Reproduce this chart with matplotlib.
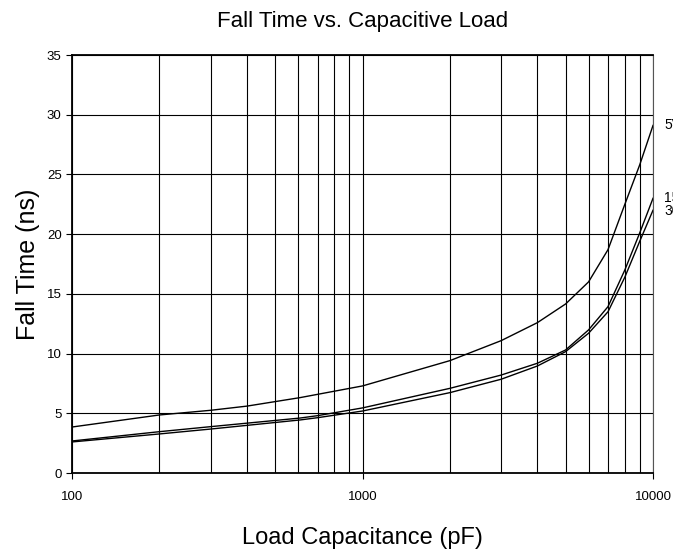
import matplotlib
matplotlib.use("Agg")
import matplotlib.pyplot as plt
from matplotlib.ticker import FixedLocator, NullFormatter, FixedFormatter, LogLocator

plt.rcParams['font.family'] = ['Liberation Sans', 'DejaVu Sans']

cap_5v = [100, 200, 300, 400, 609, 1000, 2000, 3000, 4000, 5000, 6000, 7000, 8000, 9000, 10000]
fall_5v = [3.85, 4.86, 5.25, 5.6, 6.31, 7.29, 9.41, 11.08, 12.59, 14.15, 16.0, 18.7, 22.5, 25.8, 29.1]

cap_lo = [100, 200, 300, 609, 700, 1000, 2000, 3000, 4000, 5000, 6000, 7000, 8000, 9000, 10000]
fall_15v = [2.68, 3.46, 3.88, 4.6, 4.8, 5.45, 7.09, 8.2, 9.19, 10.3, 11.98, 13.93, 17.0, 20.1, 23.0]
fall_30v = [2.6, 3.27, 3.68, 4.44, 4.63, 5.19, 6.73, 7.85, 8.96, 10.16, 11.7, 13.5, 16.4, 19.4, 22.0]

series_labels = ["5V", "15V", "30V"]
x_ticks = [100, 1000, 10000]
x_tick_labels = ["100", "1000", "10000"]
y_ticks = [0, 5, 10, 15, 20, 25, 30, 35]

fig = plt.figure(figsize=(6.73, 5.51), dpi=100)
ax = fig.add_axes([72/673, 1 - 473/551, (653-72)/673, (473-55)/551])

ax.plot(cap_5v, fall_5v, color='black', lw=1.0)
ax.plot(cap_lo, fall_15v, color='black', lw=1.0)
ax.plot(cap_lo, fall_30v, color='black', lw=1.0)

ax.set_xscale('log')
ax.set_xlim(100, 10000)
ax.set_ylim(0, 35)
ax.xaxis.set_major_locator(FixedLocator(x_ticks))
ax.xaxis.set_major_formatter(FixedFormatter(x_tick_labels))
ax.xaxis.set_minor_locator(LogLocator(base=10, subs=range(2, 10)))
ax.xaxis.set_minor_formatter(NullFormatter())
ax.set_yticks(y_ticks)

ax.grid(True, which='both', color='black', lw=0.8)
ax.tick_params(axis='both', which='major', labelsize=9.5, length=4, width=0.8, direction='out')
ax.tick_params(axis='x', which='minor', length=0)
ax.tick_params(axis='x', which='major', pad=9)
for s in ['left', 'bottom', 'top']:
    ax.spines[s].set_linewidth(1.3)
ax.spines['right'].set_linewidth(0.8)
ax.spines['right'].set_color('#555555')

label_y = [29.1, 23.0, 21.9]
for lab, yv in zip(series_labels, label_y):
    ax.text(10000 * 1.095, yv, lab, fontsize=10, va='center', ha='left', clip_on=False)

ax.set_title("Fall Time vs. Capacitive Load", fontsize=16, pad=20)
ax.set_xlabel("Load Capacitance (pF)", fontsize=17, labelpad=17)
ax.set_ylabel("Fall Time (ns)", fontsize=18, labelpad=5)

fig.savefig("out.png", dpi=100)
